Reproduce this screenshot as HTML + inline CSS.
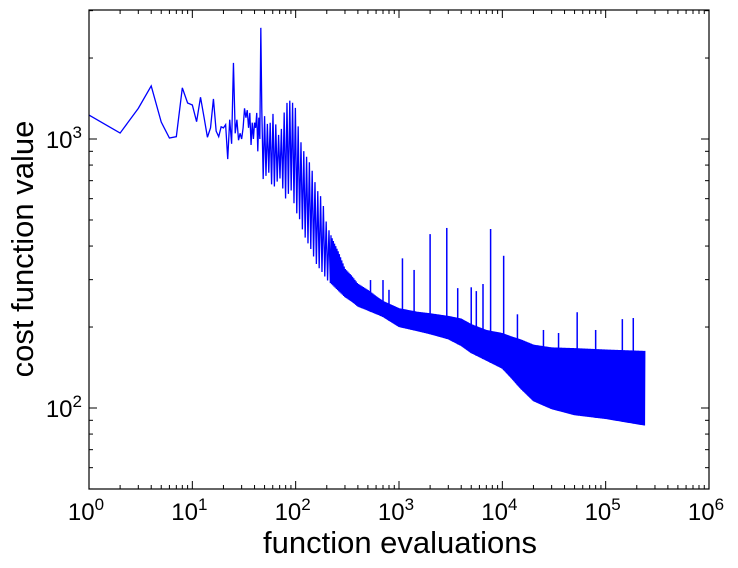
<!DOCTYPE html>
<html><head><meta charset="utf-8">
<style>
html,body{margin:0;padding:0;background:#fff;}
svg{display:block;font-family:"Liberation Sans","DejaVu Sans",sans-serif;}
</style></head>
<body>
<svg id="chart" width="738" height="568" viewBox="0 0 738 568" xmlns="http://www.w3.org/2000/svg">
<g id="marks"></g>
<g id="axes"></g>
<rect x="89" y="10" width="620" height="479" fill="none" stroke="#000" stroke-width="1.2"/>
<text x="400" y="553" font-size="31" text-anchor="middle">function evaluations</text>
<text transform="translate(33,249) rotate(-90)" font-size="31" text-anchor="middle">cost function value</text>
</svg>
<script>
// early individual evaluations (x = 1..46)
const earlyValues = [1228,1052,1300,1575,1156,1008,1020,1549,1361,1338,1160,1430,1200,1015,1100,1409,1070,1020,1110,1100,1130,842,1180,960,1918,1050,1180,990,1050,1000,1100,1300,1200,1280,1100,1250,950,1150,1000,1150,1100,1250,900,1200,1000,2590];
// envelope of the noisy trace after that
const envX     = [47,55,60,70,80,90,100,110,120,140,160,180,200,230,260,300,350,400,500,700,1000,1500,2000,3000,4000,5000,7000,10000,12000,15000,20000,30000,50000,100000,240000];
const envUpper = [1300,1100,1250,1000,1350,1400,1300,1000,900,800,650,600,480,420,380,330,310,290,275,250,235,228,225,220,215,205,195,190,185,180,172,168,167,165,163];
const envLower = [700,750,650,720,600,650,540,500,440,390,340,320,300,285,272,258,248,238,230,218,200,193,188,180,170,160,150,140,130,118,106,99,94,91,86];
// isolated spikes
const spikeX = [530, 700, 800, 1080, 1400, 2000, 2900, 3700, 5000, 5600, 6500, 7700, 10300, 14000, 25000, 35000, 53000, 80000, 145000, 185000];
const spikeY = [299, 299, 275, 360, 326, 443, 467, 279, 281, 272, 289, 463, 368, 223, 195, 190, 227, 195, 214, 216];
const xTicks = [0,1,2,3,4,5,6];
const yTicks = [2,3];

const X0=89, X1=709, Y0=10, Y1=489;
const xDec=(X1-X0)/6;
const yDec=269;
const xs = v => X0 + Math.log10(v)*xDec;
const ys = v => 408 - (Math.log10(v)-2)*yDec;
const NS='http://www.w3.org/2000/svg';
const marks=document.getElementById('marks');
const axes=document.getElementById('axes');

function interp(arr, x){
  const lx=Math.log10(x);
  for(let i=0;i<envX.length-1;i++){
    const a=Math.log10(envX[i]), b=Math.log10(envX[i+1]);
    if(lx>=a && lx<=b){const t=(lx-a)/(b-a); return Math.pow(10, Math.log10(arr[i])*(1-t)+Math.log10(arr[i+1])*t);}
  }
  return arr[arr.length-1];
}

let pts=[];
earlyValues.forEach((v,i)=>pts.push([xs(i+1),ys(v)]));
const pxStart=xs(envX[0]), pxEnd=xs(envX[envX.length-1]);
let k=0;
for(let px=pxStart; px<=pxEnd; px+= (px<330?1.4:(px<380?0.6:0.35))){
  const xv=Math.pow(10,(px-X0)/xDec);
  const v = (k%2===0)? interp(envUpper,xv) : interp(envLower,xv);
  pts.push([px, ys(v)]);
  k++;
}
const line=document.createElementNS(NS,'polyline');
line.setAttribute('points',pts.map(p=>p[0].toFixed(2)+','+p[1].toFixed(2)).join(' '));
line.setAttribute('fill','none');line.setAttribute('stroke','#0000ff');line.setAttribute('stroke-width','1.3');


marks.appendChild(line);

spikeX.forEach((sx,i)=>{
  const l=document.createElementNS(NS,'line');
  l.setAttribute('x1',xs(sx));l.setAttribute('x2',xs(sx));
  l.setAttribute('y1',ys(interp(envLower,sx)));l.setAttribute('y2',ys(spikeY[i]));
  l.setAttribute('stroke','#0000ff');l.setAttribute('stroke-width','1.5');
  
  
  marks.appendChild(l);
});

function addLine(x1,y1,x2,y2){
  const l=document.createElementNS(NS,'line');
  l.setAttribute('x1',x1);l.setAttribute('y1',y1);l.setAttribute('x2',x2);l.setAttribute('y2',y2);
  l.setAttribute('stroke','#000');l.setAttribute('stroke-width','1');
  
  
  axes.appendChild(l);
}
xTicks.forEach(d=>{
  const x=X0+d*xDec;
  addLine(x,Y1,x,Y1-8);addLine(x,Y0,x,Y0+8);
  if(d<6)for(let m=2;m<10;m++){const xm=X0+(d+Math.log10(m))*xDec;addLine(xm,Y1,xm,Y1-4);addLine(xm,Y0,xm,Y0+4);}
  const t=document.createElementNS(NS,'text');
  t.setAttribute('x',x-3);t.setAttribute('y',520);t.setAttribute('font-size','24');t.setAttribute('text-anchor','middle');
  
  
  t.innerHTML='10<tspan dy="-10" font-size="17">'+d+'</tspan>';
  axes.appendChild(t);
});
for(let e=1;e<=3;e++)for(let m=1;m<10;m++){
  const v=m*Math.pow(10,e); if(v<50||v>3000)continue;
  const y=ys(v); const len=(m===1)?8:4;
  addLine(X0,y,X0+len,y);addLine(X1,y,X1-len,y);
}
yTicks.forEach(d=>{
  const t=document.createElementNS(NS,'text');
  t.setAttribute('x',82);t.setAttribute('y',ys(Math.pow(10,d))+9);t.setAttribute('font-size','24');t.setAttribute('text-anchor','end');
  
  
  t.innerHTML='10<tspan dy="-10" font-size="17">'+d+'</tspan>';
  axes.appendChild(t);
});
</script>
</body></html>
